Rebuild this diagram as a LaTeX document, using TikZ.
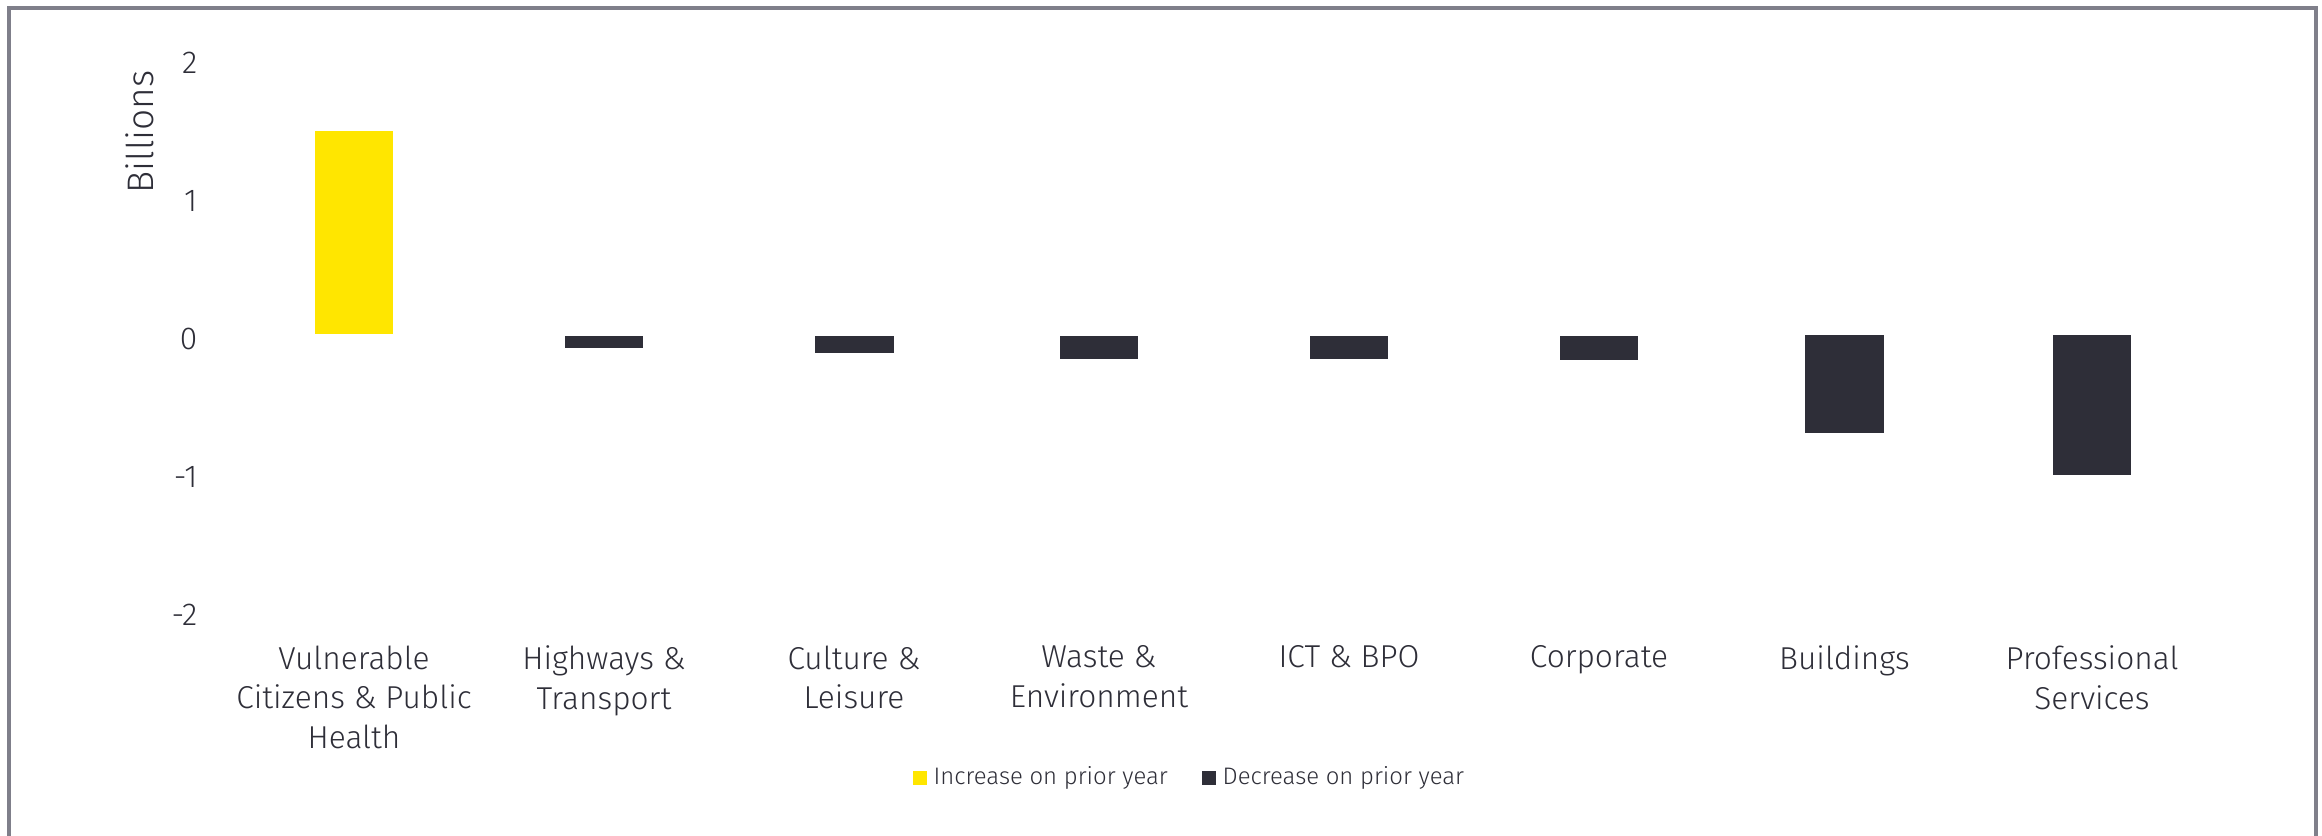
\documentclass[tikz,border=0pt]{standalone}
\usepackage{fontspec}
\setmainfont{Fira Sans Light}
\definecolor{eydark}{HTML}{2E2E38}
\definecolor{eyyellow}{HTML}{FFE600}
\definecolor{framegray}{HTML}{7F7F8A}
\tikzset{
  cat/.style={anchor=north, align=center, inner sep=0pt, text=eydark, font=\fontsize{9}{11.3}\selectfont},
  tick/.style={anchor=east, inner sep=0pt, text=eydark, font=\fontsize{9}{10.9}\selectfont},
  leg/.style={anchor=west, inner sep=0pt, text=eydark, font=\fontsize{6.8}{8}\selectfont},
  incbar/.style={fill=eyyellow},
  decbar/.style={fill=eydark},
}
\begin{document}
\begin{tikzpicture}[x=0.01cm,y=-0.01cm]
\useasboundingbox (0,0) rectangle (2322,835);
\fill[white] (0,0) rectangle (2322,835);
\draw[framegray, line width=1pt] (9,840) -- (9,8) -- (2316,8) -- (2316,840);
% axis
\node[tick] (t2) at (198,63) {2};
\node[tick] (t1) at (198,201) {1};
\node[tick] (t0) at (198,339) {0};
\node[tick] (tm1) at (198,477) {-1};
\node[tick] (tm2) at (198,615) {-2};
\node[rotate=90, inner sep=0pt, text=eydark, font=\fontsize{10.5}{12}\selectfont] (ylab) at (140,132) {Billions};
% bars
\fill[incbar] (315,131) rectangle (393,334);
\fill[decbar] (565,336) rectangle (643,348);
\fill[decbar] (815,336) rectangle (894,353);
\fill[decbar] (1060,336) rectangle (1138,358.6);
\fill[decbar] (1310,336) rectangle (1388,358.6);
\fill[decbar] (1560,336) rectangle (1638,360);
\fill[decbar] (1805,335) rectangle (1884,432.7);
\fill[decbar] (2053,335) rectangle (2131,474.7);
% categories
\node[cat] (c1) at (354,645) {Vulnerable\\Citizens \& Public\\Health};
\node[cat] (c2) at (604,645) {Highways \&\\Transport};
\node[cat] (c3) at (854,645) {Culture \&\\Leisure};
\node[cat] (c4) at (1099,645) {Waste \&\\Environment};
\node[cat] (c5) at (1349,645) {ICT \& BPO};
\node[cat] (c6) at (1599,645) {Corporate};
\node[cat] (c7) at (1844.5,645) {Buildings};
\node[cat] (c8) at (2092,645) {Professional\\Services};
% legend
\fill[incbar] (913,771) rectangle (927,785);
\node[leg] (l1) at (933,778) {Increase on prior year};
\fill[decbar] (1202,771) rectangle (1216,785);
\node[leg] (l2) at (1222,778) {Decrease on prior year};
\end{tikzpicture}
\end{document}
